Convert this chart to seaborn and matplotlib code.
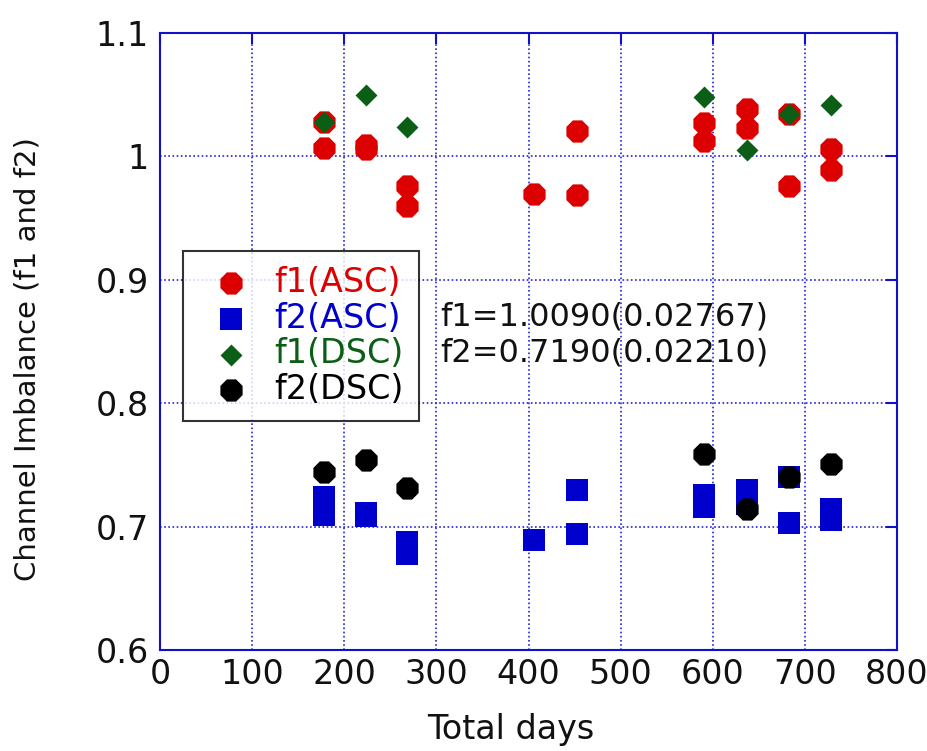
import matplotlib
matplotlib.use("Agg")
import matplotlib.pyplot as plt
import seaborn as sns
import pandas as pd

# ---- data ----
f1_asc_days = [178, 178, 224, 224, 268, 268, 406, 453, 453, 590, 590, 637, 637, 683, 683, 728, 728]
f1_asc_vals = [1.0275, 1.0065, 1.009, 1.006, 0.976, 0.960, 0.9692, 1.0205, 0.969,
               1.0273, 1.0124, 1.0386, 1.0232, 1.034, 0.976, 1.0057, 0.989]
f2_asc_days = [178, 178, 224, 224, 268, 268, 406, 453, 453, 590, 590, 637, 637, 683, 683, 728, 728]
f2_asc_vals = [0.7240, 0.7097, 0.7109, 0.7085, 0.6875, 0.678, 0.689, 0.7293, 0.6942,
               0.7259, 0.716, 0.730, 0.718, 0.740, 0.703, 0.7146, 0.7057]
f1_dsc_days = [178, 224, 268, 590, 637, 683, 728]
f1_dsc_vals = [1.0275, 1.0497, 1.0235, 1.048, 1.0049, 1.034, 1.042]
f2_dsc_days = [178, 224, 268, 590, 637, 683, 728]
f2_dsc_vals = [0.7444, 0.7541, 0.7309, 0.7587, 0.7142, 0.7403, 0.7506]

series_names = ["f1(ASC)", "f2(ASC)", "f1(DSC)", "f2(DSC)"]
colors = ["#DD0000", "#0000CC", "#0B5E16", "#000000"]
markers = ["8", "s", "D", "8"]
sizes = [300, 250, 125, 300]

x_ticks = [0, 100, 200, 300, 400, 500, 600, 700, 800]
y_ticks = [0.6, 0.7, 0.8, 0.9, 1.0, 1.1]
y_tick_labels = ["0.6", "0.7", "0.8", "0.9", "1", "1.1"]
annot_lines = ["f1=1.0090(0.02767)", "f2=0.7190(0.02210)"]

sns.set_theme(style="white")
plt.rcParams["font.family"] = ["DejaVu Sans"]

fig = plt.figure(figsize=(9.28, 7.51), dpi=100)
ax = fig.add_axes([160 / 928, 1 - 650 / 751, 737 / 928, 617 / 751])

data = [(f1_asc_days, f1_asc_vals), (f2_asc_days, f2_asc_vals),
        (f1_dsc_days, f1_dsc_vals), (f2_dsc_days, f2_dsc_vals)]
for (d, v), name, c, m, s in zip(data, series_names, colors, markers, sizes):
    df = pd.DataFrame({"days": d, "val": v})
    sns.scatterplot(data=df, x="days", y="val", ax=ax, color=c, marker=m, s=s,
                    linewidth=0, label=name, zorder=3)

ax.set_xlim(0, 800)
ax.set_ylim(0.6, 1.1)
ax.set_xticks(x_ticks)
ax.set_yticks(y_ticks)
ax.set_yticklabels(y_tick_labels)
ax.grid(True, color="#2222DD", linestyle=(0, (1, 1.5)), linewidth=1.2)
for sp in ax.spines.values():
    sp.set_color("#1111CC")
    sp.set_linewidth(1.5)
    sp.set_visible(True)
ax.tick_params(axis="both", which="both", direction="in", length=8, width=1.5,
               color="#1111CC", top=True, right=True, labelsize=24, labelcolor="#111111")
ax.tick_params(axis="x", pad=6)
ax.tick_params(axis="y", pad=8)
ax.set_xlabel("Total days", fontsize=24, color="#111111")
ax.set_ylabel("Channel Imbalance (f1 and f2)", fontsize=21, color="#111111")
ax.xaxis.set_label_coords((511 - 160) / 737, -(730 - 650) / 617)
ax.yaxis.set_label_coords(-(160 - 28) / 737, (650 - 359) / 617)
ax.xaxis.label.set_va("center")
ax.yaxis.label.set_va("center")

leg = ax.legend(loc="upper left", bbox_to_anchor=((183 - 160) / 737, (650 - 251) / 617),
                borderaxespad=0, fontsize=24, labelspacing=0.08, handletextpad=0.3,
                handlelength=2.0, borderpad=0.45, frameon=True, fancybox=False,
                markerscale=1.0)
leg.get_frame().set_edgecolor("black")
leg.get_frame().set_linewidth(1.5)
for txt, c in zip(leg.get_texts(), colors):
    txt.set_color(c)

ax.text((440 - 160) / 737, (650 - 317) / 617, annot_lines[0], transform=ax.transAxes,
        fontsize=23, va="center", ha="left", color="#111111")
ax.text((440 - 160) / 737, (650 - 353) / 617, annot_lines[1], transform=ax.transAxes,
        fontsize=23, va="center", ha="left", color="#111111")

fig.savefig("out.png", dpi=100)
